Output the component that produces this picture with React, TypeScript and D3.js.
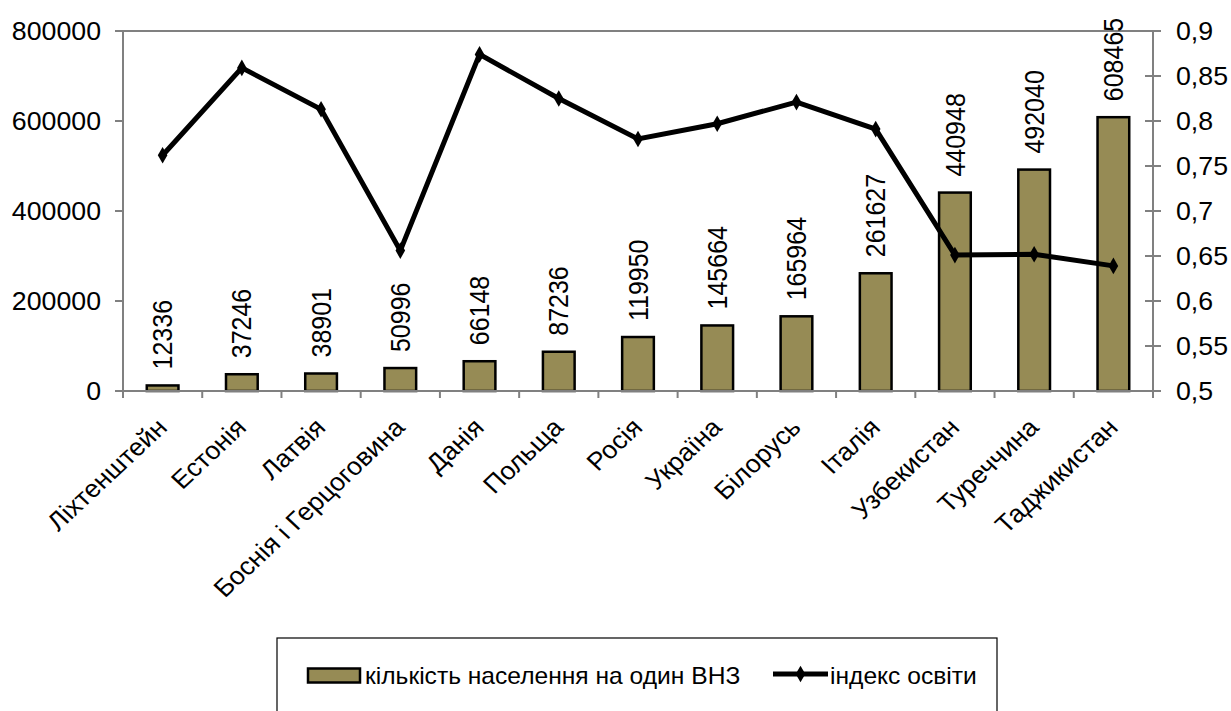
import React from "react";
import * as d3 from "d3";

// Countries, ordered by population per higher-education institution
const categories = [
  "Ліхтенштейн",
  "Естонія",
  "Латвія",
  "Боснія і Герцоговина",
  "Данія",
  "Польща",
  "Росія",
  "Україна",
  "Білорусь",
  "Італія",
  "Узбекистан",
  "Туреччина",
  "Таджикистан",
];

// кількість населення на один ВНЗ
const populationPerUniversity = [
  12336, 37246, 38901, 50996, 66148, 87236, 119950, 145664, 165964, 261627,
  440948, 492040, 608465,
];

// індекс освіти
const educationIndex = [
  0.762, 0.859, 0.813, 0.656, 0.874, 0.825, 0.78, 0.797, 0.821, 0.791, 0.651,
  0.652, 0.639,
];

const leftTicks = [0, 200000, 400000, 600000, 800000];
const rightTicks = [0.5, 0.55, 0.6, 0.65, 0.7, 0.75, 0.8, 0.85, 0.9];

const seriesNames = ["кількість населення на один ВНЗ", "індекс освіти"];

const W = 1231;
const H = 711;
const plot = { left: 123, right: 1153, top: 31, bottom: 391 };
const FONT = "'Liberation Sans', Arial, sans-serif";
const SX = 1.07;
const BAR_FILL = "#968b55";
const AXIS = "#808080";

const x = d3
  .scaleBand<string>()
  .domain(categories)
  .range([plot.left, plot.right])
  .paddingInner(0.6)
  .paddingOuter(0.3);

const yLeft = d3
  .scaleLinear()
  .domain([0, 800000])
  .range([plot.bottom, plot.top]);

const yRight = d3
  .scaleLinear()
  .domain([0.5, 0.9])
  .range([plot.bottom, plot.top]);

const step = x.step();
const center = (c: string) => (x(c) as number) + x.bandwidth() / 2;

const commaFmt = (v: number) => {
  const s = d3.format("")(+v.toFixed(2));
  return s.replace(".", ",");
};

const linePath = d3
  .line<number>()
  .x((_, i) => center(categories[i]))
  .y((v) => yRight(v))(educationIndex);

const diamond = d3.symbol().type(d3.symbolDiamond).size(80)();

export default function App() {
  const catBoundaries = d3.range(categories.length + 1).map((i) => plot.left + i * step);
  return (
    <svg
      width={W}
      height={H}
      style={{ position: "absolute", left: 0, top: 0, background: "#fff" }}
      fontFamily={FONT}
    >
      <rect x={0} y={0} width={W} height={H} fill="#fff" />

      {/* plot area top border */}
      <line x1={plot.left} x2={plot.right} y1={plot.top} y2={plot.top} stroke={AXIS} strokeWidth={2} />

      {/* bars */}
      {categories.map((c, i) => {
        const y0 = yLeft(populationPerUniversity[i]);
        return (
          <rect
            key={c}
            x={x(c)}
            y={y0}
            width={x.bandwidth()}
            height={plot.bottom - y0}
            fill={BAR_FILL}
            stroke="#000"
            strokeWidth={2.5}
          />
        );
      })}

      {/* left axis */}
      <line x1={plot.left} x2={plot.left} y1={plot.top} y2={plot.bottom + 7} stroke={AXIS} strokeWidth={2} />
      {leftTicks.map((t) => (
        <g key={t}>
          <line x1={plot.left - 8} x2={plot.left} y1={yLeft(t)} y2={yLeft(t)} stroke={AXIS} strokeWidth={2} />
          <text
            transform={`translate(${101},${yLeft(t)}) scale(${SX},1)`}
            textAnchor="end"
            dy="0.36em"
            fontSize={25}
            fill="#000"
          >
            {t}
          </text>
        </g>
      ))}

      {/* right axis */}
      <line x1={plot.right} x2={plot.right} y1={plot.top} y2={plot.bottom + 7} stroke={AXIS} strokeWidth={2} />
      {rightTicks.map((t) => (
        <g key={t}>
          <line x1={plot.right - 8} x2={plot.right + 8} y1={yRight(t)} y2={yRight(t)} stroke={AXIS} strokeWidth={2} />
          <text
            transform={`translate(${1176},${yRight(t)}) scale(${SX},1)`}
            textAnchor="start"
            dy="0.36em"
            fontSize={25}
            fill="#000"
          >
            {commaFmt(t)}
          </text>
        </g>
      ))}

      {/* category axis */}
      <line x1={plot.left} x2={plot.right} y1={plot.bottom} y2={plot.bottom} stroke={AXIS} strokeWidth={2} />
      {catBoundaries.map((bx, i) => (
        <line key={i} x1={bx} x2={bx} y1={plot.bottom} y2={plot.bottom + 7} stroke={AXIS} strokeWidth={2} />
      ))}
      {categories.map((c) => (
        <text
          key={c}
          transform={`translate(${center(c) + 6},${429}) scale(${SX},1) rotate(-45)`}
          textAnchor="end"
          fontSize={25}
          fill="#000"
        >
          {c}
        </text>
      ))}

      {/* value labels */}
      {categories.map((c, i) => (
        <text
          key={c}
          transform={`translate(${center(c)},${yLeft(populationPerUniversity[i]) - 16}) scale(${SX},1) rotate(-90)`}
          textAnchor="start"
          dy="0.36em"
          fontSize={25}
          fill="#000"
        >
          {populationPerUniversity[i]}
        </text>
      ))}

      {/* education index line */}
      <path d={linePath ?? ""} fill="none" stroke="#000" strokeWidth={5} strokeLinejoin="miter" />
      {educationIndex.map((v, i) => (
        <path
          key={i}
          d={diamond ?? ""}
          transform={`translate(${center(categories[i])},${yRight(v)})`}
          fill="#000"
        />
      ))}

      {/* legend */}
      <rect x={277} y={638} width={720} height={90} fill="#fff" stroke="#000" strokeWidth={1.2} />
      <rect x={308} y={668.5} width={52} height={14} fill={BAR_FILL} stroke="#000" strokeWidth={2.5} />
      <text
        transform={`translate(${365},${676}) scale(${SX},1)`}
        dy="0.36em"
        fontSize={23}
        fill="#000"
      >
        {seriesNames[0]}
      </text>
      <line x1={773} x2={828} y1={674} y2={674} stroke="#000" strokeWidth={5} />
      <path d={diamond ?? ""} transform="translate(800.5,674)" fill="#000" />
      <text
        transform={`translate(${830},${676}) scale(${SX},1)`}
        dy="0.36em"
        fontSize={23}
        fill="#000"
      >
        {seriesNames[1]}
      </text>
    </svg>
  );
}
